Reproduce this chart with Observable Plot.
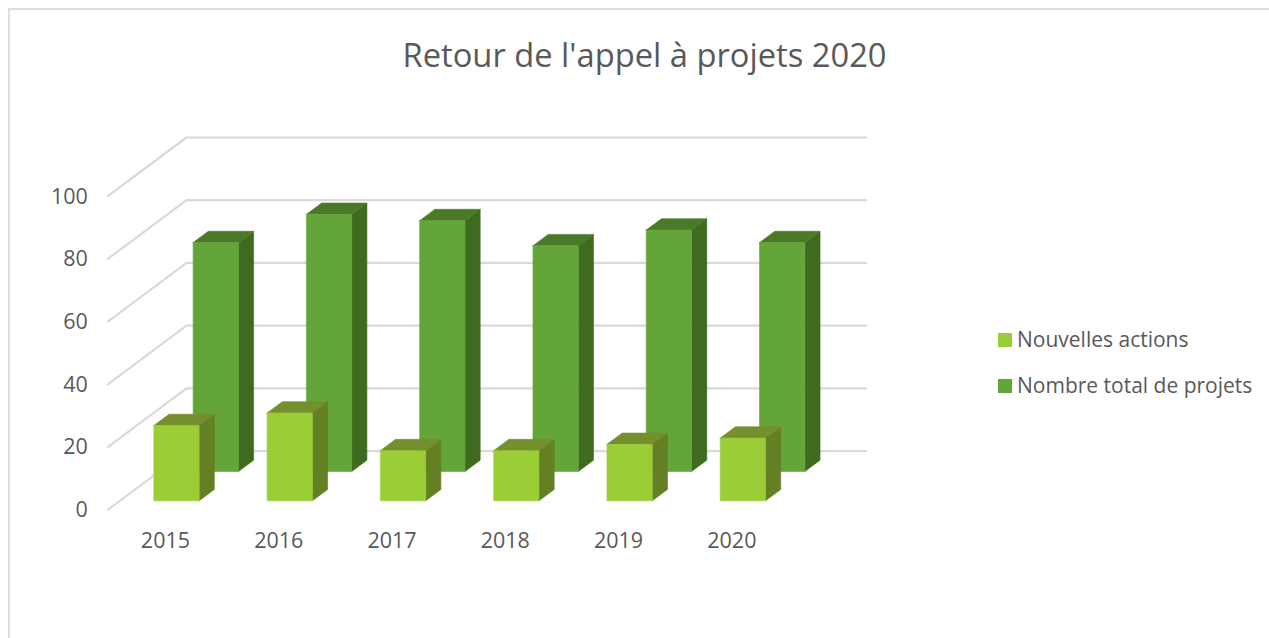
<!DOCTYPE html>
<html lang="fr">
<head>
<meta charset="utf-8">
<script src="https://cdn.jsdelivr.net/npm/d3@7"></script>
<script src="https://cdn.jsdelivr.net/npm/@observablehq/plot@0.6"></script>
<style>
  html, body { margin: 0; padding: 0; background: #fff; overflow: hidden; }
  #chart { position: relative; width: 1269px; height: 638px; font-family: "Open Sans", sans-serif; color: #595959; }
  #chart svg { position: absolute; left: 0; top: 0; }
  #frame { position: absolute; left: 8px; top: 8px; right: 0; bottom: 0; border-top: 2px solid #DEDEDE; border-left: 2px solid #DEDEDE; }
  #title { position: absolute; left: 0; width: 1289px; top: 33px; text-align: center; font-size: 32.7px; line-height: 44px; white-space: nowrap; }
  .key { position: absolute; left: 998px; font-size: 21px; line-height: 28px; white-space: nowrap; display: flex; align-items: center; }
  .key i { display: inline-block; width: 14px; height: 14px; margin-right: 5px; position: relative; top: 1px; }
</style>
</head>
<body>
<div id="chart">
  <div id="frame"></div>
  <div id="title">Retour de l'appel à projets 2020</div>
</div>
<script>
const years = ["2015", "2016", "2017", "2018", "2019", "2020"];
const nouvellesActions = [24, 28, 16, 16, 18, 20];
const nombreTotal = [73, 82, 80, 72, 77, 73];
const yTicks = [0, 20, 40, 60, 80, 100];
const seriesNames = ["Nouvelles actions", "Nombre total de projets"];

// Oblique projection of the chart's depth axis into x (category) and y (value) units.
const depthX = 0.695, depthY = 18.72;
const barWidth = 0.4, barDepth = 0.193, gridEnd = 6.0;
const P = (cat, val, d) => ({x: cat + d * depthX, y: val + d * depthY});

const palette = {
  light: {front: "#9BCD37", top: "#748F2B", side: "#657F24"},
  dark:  {front: "#64A539", top: "#4A7A28", side: "#3E6B1E"}
};

function faces(values, depth, pal, key) {
  const polys = [];
  const add = (pts, id, fill) => polys.push(...pts.map(p => ({...p, id, fill})));
  values.forEach((v, i) => {
    const x0 = i + 0.5 - barWidth / 2, x1 = x0 + barWidth;
    const d0 = depth, d1 = depth + barDepth;
    const a = P(x0, v, d0), b = P(x1, v, d0), c = P(x0, 0, d0), e = P(x1, 0, d0);
    add([b, e, P(x1, 0, d1), P(x1, v, d1), b], `${key}s${i}`, pal.side);
    add([a, b, P(x1, v, d1), P(x0, v, d1), a], `${key}t${i}`, pal.top);
    add([a, b, e, c, a], `${key}f${i}`, pal.front);
  });
  return Plot.line(polys, {x: "x", y: "y", z: "id", fill: "fill", stroke: "fill", strokeWidth: 0.6, curve: "linear"});
}

const grid = yTicks.flatMap(t => [
  {...P(0, t, 0), t}, {...P(0, t, 1), t}, {x: gridEnd + depthX, y: t + depthY, t}
]);

const plot = Plot.plot({
  width: 1269,
  height: 638,
  marginLeft: 107.3,
  marginRight: 482,
  marginTop: 195.7,
  marginBottom: 128.7,
  style: {background: "transparent", fontFamily: '"Open Sans", sans-serif'},
  x: {domain: [0, 6]},
  y: {domain: [0, 100]},
  marks: [
    Plot.line(grid, {x: "x", y: "y", z: "t", stroke: "#D9D9D9", strokeWidth: 2.2, curve: "linear"}),
    faces(nombreTotal, 0.652, palette.dark, "b"),
    faces(nouvellesActions, 0.153, palette.light, "a"),
    Plot.axisY({ticks: yTicks, tickSize: 0, tickPadding: 20, label: null, fontSize: 21.5, color: "#595959", tickFormat: d => d, dy: 0.5}),
    Plot.axisX({ticks: years.map((_, i) => i + 0.5), tickFormat: (_, i) => years[i], tickSize: 0, tickPadding: 23, label: null, fontSize: 21.5, color: "#595959", dx: 1})
  ]
});

const chart = document.getElementById("chart");
chart.appendChild(plot);
[[seriesNames[0], palette.light.front, 325], [seriesNames[1], palette.dark.front, 371]].forEach(([name, color, top]) => {
  const k = document.createElement("div");
  k.className = "key";
  k.style.top = top + "px";
  const sw = document.createElement("i");
  sw.style.background = color;
  k.appendChild(sw);
  k.appendChild(document.createTextNode(name));
  chart.appendChild(k);
});
</script>
</body>
</html>
